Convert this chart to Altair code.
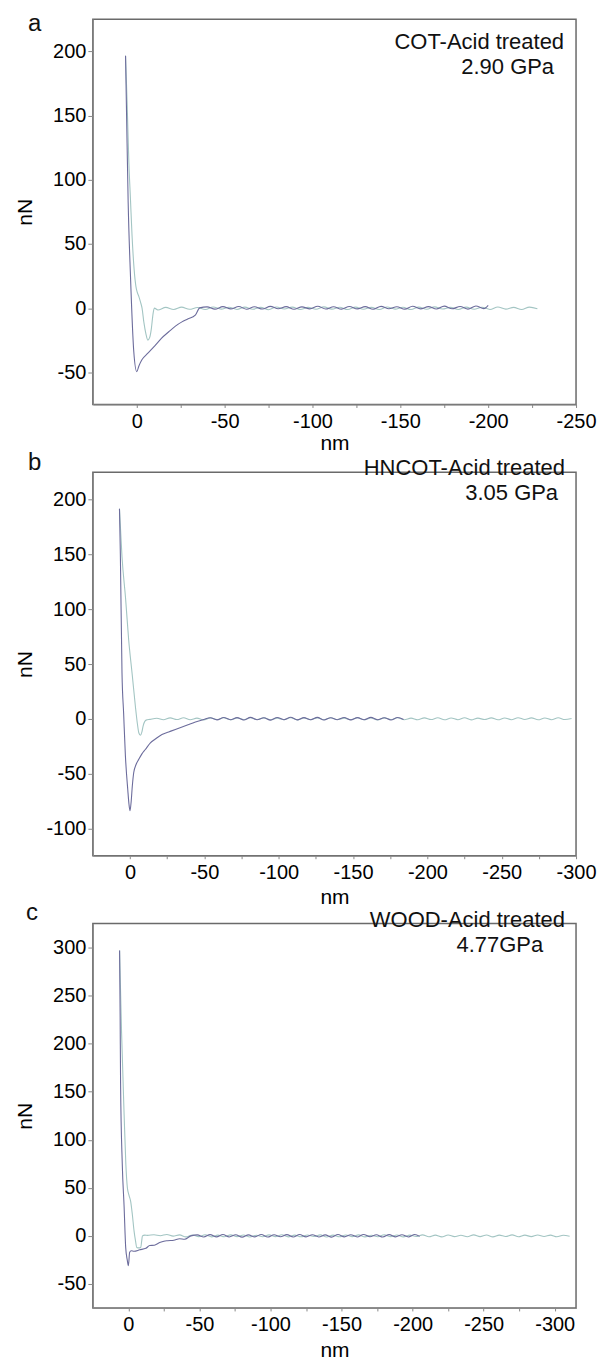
import altair as alt
import pandas as pd

FONT = "Liberation Sans"
DARK = "#6c6c9c"
LIGHT = "#a3c5c3"
FRAME = "#6a6a6a"

# ---------------- panel a ----------------
A_DARK_X = [6.4, 5.8, 4.9, 3.6, 1.7, 0.0, -1.2, -3.0, -6.0, -8.5, -10.6, -14.0, -18.2, -22.0, -25.7, -29.0, -33.3, -35.8,
            -40.0, -44.5, -49.0, -53.5, -58.0, -62.5, -67.0, -71.5, -76.0, -80.5, -85.0, -89.5, -94.0, -98.5, -103.0,
            -107.5, -112.0, -116.5, -121.0, -125.5, -130.0, -134.5, -139.0, -143.5, -148.0, -152.5, -157.0, -161.5,
            -166.0, -170.5, -175.0, -179.5, -184.0, -188.5, -193.0, -197.5, -200.0]
A_DARK_Y = [196.5, 150, 82, 25.5, -34, -49.5, -45, -40, -35.5, -32, -28.8, -23.5, -18.4, -14, -10.7, -8.5, -5.5, 0.2,
            1.0, -0.8, 1.2, -0.6, 1.3, -0.9, 1.1, -0.7, 1.4, -0.5, 1.2, -0.9, 1.0, -0.6, 1.5, -0.7, 1.1, -0.8, 1.3,
            -0.6, 1.2, -0.9, 1.4, -0.5, 1.1, -0.8, 1.5, -0.6, 1.2, -0.7, 1.6, -0.5, 1.3, -0.8, 1.7, -0.4, 2.2]
A_LIGHT_X = [6.4, 5.5, 4.5, 3.6, 2.7, 1.5, 0.5, -0.2, -1.2, -2.1, -3.0, -4.0, -5.2, -6.3, -7.3, -8.3, -9.2, -10.0, -12.0,
             -16.5, -21, -25.5, -30, -34.5, -39, -43.5, -48, -52.5, -57, -61.5, -66, -70.5, -75, -79.5, -84, -88.5,
             -93, -97.5, -102, -106.5, -111, -115.5, -120, -124.5, -129, -133.5, -138, -142.5, -147, -151.5, -156,
             -160.5, -165, -169.5, -174, -178.5, -183, -187.5, -192, -196.5, -201, -205.5, -210, -214.5, -219,
             -223.5, -228]
A_LIGHT_Y = [196.5, 160, 113, 85, 56.5, 30, 17, 12.6, 9, 4.8, 0, -10.7, -20, -24.9, -23, -15.9, -5, 0, -1.4,
             0.6, -1.0, 0.8, -0.9, 0.5, -1.1, 0.9, -0.8, 0.7, -1.0,
             0.8, -0.9, 0.6, -1.2, 0.9, -0.7, 0.8, -1.0, 0.6, -0.9,
             1.0, -0.8, 0.7, -1.1, 0.8, -0.9, 0.6, -1.0, 0.9, -0.8,
             0.7, -1.1, 0.8, -0.9, 1.0, -0.7, 0.6, -1.0, 0.8, -0.9,
             0.7, -1.0, 0.9, -0.8, 0.6, -1.1, 0.8, -0.5]

# ---------------- panel b ----------------
B_DARK_X = [7.1, 6.5, 5.4, 4.3, 3.1, 1.5, 0.7, 0.0, -0.8, -1.5, -2.5, -4.0, -5.9, -8.0, -10.3, -13.7, -17.0, -21.5,
            -26.0, -30.5, -35.0, -39.5, -44.0, -49.6,
            -54, -58.5, -63, -67.5, -72, -76.5, -81, -85.5, -90, -94.5, -99, -103.5, -108, -112.5, -117, -121.5,
            -126, -130.5, -135, -139.5, -144, -148.5, -153, -157.5, -162, -166.5, -171, -175.5, -180, -184]
B_DARK_Y = [191.8, 150, 41.8, 5, -34, -65, -78, -84, -75, -62, -49, -42, -37, -32, -28, -22, -18.5, -14.3,
            -12, -9.7, -7.5, -5.2, -3, -0.6,
            1.0, -1.0, 1.2, -0.8, 1.1, -1.1, 1.3, -0.9, 1.0, -1.2, 1.2, -0.8, 1.4, -1.0, 1.1, -0.9, 1.3, -1.1,
            1.0, -0.8, 1.2, -1.0, 1.1, -0.9, 1.3, -0.8, 1.0, -1.1, 1.2, -0.6]
B_LIGHT_X = [7.1, 5.4, 3.0, 0.9, -1.5, -3.6, -5.0, -5.9, -7.0, -8.0, -8.8, -10.8, -13.5,
             -18, -22.5, -27, -31.5, -36, -40.5, -45, -49.5, -54, -58.5, -63, -67.5, -72, -76.5, -81, -85.5, -90,
             -94.5, -99, -103.5, -108, -112.5, -117, -121.5, -126, -130.5, -135, -139.5, -144, -148.5, -153,
             -157.5, -162, -166.5, -171, -175.5, -180, -184.5, -189, -193.5, -198, -202.5, -207, -211.5, -216,
             -220.5, -225, -229.5, -234, -238.5, -243, -247.5, -252, -256.5, -261, -265.5, -270, -274.5, -279,
             -283.5, -288, -292.5, -297]
B_LIGHT_Y = [191.8, 148, 110, 72, 40, 11.5, -5, -12.7, -15, -12, -6.7, -1.2, -0.5,
             0.5, -0.9, 0.8, -0.7, 0.9, -0.8, 0.6, -1.0, 0.8, -0.7,
             0.9, -0.9, 0.7, -0.8, 1.0, -0.7, 0.8, -0.9, 0.6, -0.8,
             0.9, -1.0, 0.7, -0.8, 0.8, -0.9, 1.0, -0.7, 0.6, -0.8,
             0.9, -0.9, 0.7, -1.0, 0.8, -0.7, 0.9, -0.8, 0.6, -0.9,
             0.8, -0.7, 1.0, -0.9, 0.7, -0.8, 0.9, -1.0, 0.6, -0.7,
             0.8, -0.9, 0.7, -0.8, 1.0, -0.6, 0.8, -0.9, 0.7, -0.8,
             0.9, -0.7, 0.3]

# ---------------- panel c ----------------
C_DARK_X = [6.2, 5.8, 5.5, 4.3, 3.0, 1.9, 0.8, 0.0, -0.9, -2.0, -4.0, -8.0, -12.3, -15.0, -18.2, -22.0, -25.0, -27.7,
            -32.0, -36.0, -39.5, -44.0,
            -48.5, -53, -57.5, -62, -66.5, -71, -75.5, -80, -84.5, -89, -93.5, -98, -102.5, -107, -111.5, -116,
            -120.5, -125, -129.5, -134, -138.5, -143, -147.5, -152, -156.5, -161, -165.5, -170, -174.5, -179,
            -183.5, -188, -192.5, -197, -201.5, -205]
C_DARK_Y = [297, 230, 160, 74.6, 30, -12, -25, -31, -17, -15.5, -16, -14.5, -13, -10, -9.7, -7, -5.5, -5,
            -4.5, -3, -3.5, 0,
            1.0, -1.2, 1.3, -1.0, 1.4, -1.1, 1.2, -1.3, 1.0, -1.0, 1.5, -1.2, 1.1, -0.9, 1.3, -1.2, 1.4, -1.0,
            1.2, -1.1, 1.0, -1.3, 1.4, -1.0, 1.2, -1.1, 1.5, -0.9, 1.1, -1.2, 1.3, -1.0, 1.2, -1.1, 1.4, -0.5]
C_LIGHT_X = [6.2, 4.8, 3.0, 1.8, 0.7, -0.5, -1.6, -2.8, -4.0, -5.0, -5.9, -7.3, -8.7, -9.3, -9.9, -11.5, -13.5,
             -18, -22.5, -27, -31.5, -36, -40.5, -45, -49.5, -54, -58.5, -63, -67.5, -72, -76.5, -81, -85.5, -90,
             -94.5, -99, -103.5, -108, -112.5, -117, -121.5, -126, -130.5, -135, -139.5, -144, -148.5, -153,
             -157.5, -162, -166.5, -171, -175.5, -180, -184.5, -189, -193.5, -198, -202.5, -207, -211.5, -216,
             -220.5, -225, -229.5, -234, -238.5, -243, -247.5, -252, -256.5, -261, -265.5, -270, -274.5, -279,
             -283.5, -288, -292.5, -297, -301.5, -306, -310.5]
C_LIGHT_Y = [297, 212, 126, 75, 50, 42, 36, 22, 5, -5, -12, -12.5, -12, -6, 0, 0.8, 0.5,
             1.2, 0.2, 1.5, -0.3, 1.0, -1.0, 0.9, -0.8, 1.1, -1.0,
             0.8, -0.9, 1.0, -0.8, 0.9, -1.1, 0.7, -0.9, 1.0, -0.8,
             1.1, -1.0, 0.8, -0.9, 0.9, -0.7, 1.0, -1.1, 0.8, -0.9,
             0.9, -0.8, 1.0, -1.0, 0.7, -0.9, 1.1, -0.8, 0.9, -1.0,
             0.8, -0.7, 1.0, -0.9, 0.8, -1.0, 0.9, -0.8, 0.7, -0.9,
             1.0, -0.8, 0.9, -1.0, 0.8, -0.7, 1.0, -0.9, 0.8, -0.8,
             0.9, -0.7, 0.8, -0.9, 0.6, -0.3]

X_TICKS_A = [0, -25, -50, -75, -100, -125, -150, -175, -200, -225, -250]
X_TICKS_BC = [0, -25, -50, -75, -100, -125, -150, -175, -200, -225, -250, -275, -300]
Y_TICKS_A = [-50, 0, 50, 100, 150, 200]
Y_TICKS_B = [-100, -50, 0, 50, 100, 150, 200]
Y_TICKS_C = [-50, 0, 50, 100, 150, 200, 250, 300]

LABELS = {
    "a": ("COT-Acid treated", "2.90 GPa"),
    "b": ("HNCOT-Acid treated", "3.05 GPa"),
    "c": ("WOOD-Acid treated", "4.77GPa"),
}

W = 484


def frame(xs, ys):
    n = min(len(xs), len(ys))
    return pd.DataFrame({"x": xs[:n], "y": ys[:n], "i": list(range(n))})


def panel(dx, dy, lx, ly, xdom, xticks, ydom, yticks, h, letter, pos, nm_y):
    xenc = alt.X("x:Q", scale=alt.Scale(domain=xdom, reverse=True, nice=False, zero=False),
                 axis=alt.Axis(values=xticks, title="nm", grid=False,
                               labelExpr="datum.value % 50 == 0 ? '' + datum.value : ''",
                               labelOverlap=False, labelFlush=False, labelBaseline="alphabetic",
                               tickSize=3, labelPadding=20, labelFontSize=20, titleFontSize=21,
                               titleBaseline="alphabetic", titleX=W / 2, titleY=nm_y, titleFontWeight="normal"))
    yenc = alt.Y("y:Q", scale=alt.Scale(domain=ydom, nice=False, zero=False),
                 axis=alt.Axis(values=yticks, title="nN", grid=False, labelExpr="'' + datum.value", tickSize=5,
                               labelPadding=2, labelFontSize=20, titleFontSize=21, titleAngle=-90,
                               titleBaseline="alphabetic", titleAlign="center", titleX=-61, titleY=h / 2,
                               titleFontWeight="normal"))
    light = alt.Chart(frame(lx, ly)).mark_line(color=LIGHT, strokeWidth=1.1, clip=True,
                                               interpolate="monotone").encode(x=xenc, y=yenc, order="i:Q")
    dark = alt.Chart(frame(dx, dy)).mark_line(color=DARK, strokeWidth=1.1, clip=True,
                                              interpolate="monotone").encode(x="x:Q", y="y:Q", order="i:Q")
    t1, t2 = LABELS[letter]
    (x1, y1), (x2, y2), (xl, yl) = pos
    txt1 = alt.Chart(pd.DataFrame({"t": [t1]})).mark_text(
        align="right", baseline="alphabetic", fontSize=22, font=FONT, color="#111").encode(
        text="t:N", x=alt.value(x1), y=alt.value(y1))
    txt2 = alt.Chart(pd.DataFrame({"t": [t2]})).mark_text(
        align="right", baseline="alphabetic", fontSize=22, font=FONT, color="#111").encode(
        text="t:N", x=alt.value(x2), y=alt.value(y2))
    let = alt.Chart(pd.DataFrame({"t": [letter]})).mark_text(
        align="left", baseline="alphabetic", fontSize=24, font=FONT, color="#111").encode(
        text="t:N", x=alt.value(xl), y=alt.value(yl))
    return alt.layer(light, dark, txt1, txt2, let).properties(
        width=W, height=h, view=alt.ViewBackground(stroke=FRAME, strokeWidth=1.5))


pa = panel(A_DARK_X, A_DARK_Y, A_LIGHT_X, A_LIGHT_Y, [-250, 25], X_TICKS_A, [-75, 225], Y_TICKS_A, 386, "a",
           [(472, 30), (462, 55), (-65, 12)], 45)
pb = panel(B_DARK_X, B_DARK_Y, B_LIGHT_X, B_LIGHT_Y, [-300, 25], X_TICKS_BC, [-125, 225], Y_TICKS_B, 384, "b",
           [(473, 3), (466, 28), (-65, -2)], 48)
pc = panel(C_DARK_X, C_DARK_Y, C_LIGHT_X, C_LIGHT_Y, [-315, 25], X_TICKS_BC, [-75, 325], Y_TICKS_C, 385, "c",
           [(473, 3), (451, 28), (-67, -4)], 49)

chart = alt.vconcat(pa, pb, pc, spacing=68, bounds="flush").properties(
    padding={"left": 6, "top": 2, "right": 0, "bottom": 0}
).configure_view(stroke=FRAME, strokeWidth=1.5).configure_axis(
    domainColor=FRAME, domainWidth=1.5, tickColor=FRAME, tickWidth=1.2, labelFont=FONT, titleFont=FONT,
    labelColor="#111", titleColor="#111", grid=False
).configure(background="white")

chart.save("out.html", embed_options={"renderer": "svg", "actions": False})
